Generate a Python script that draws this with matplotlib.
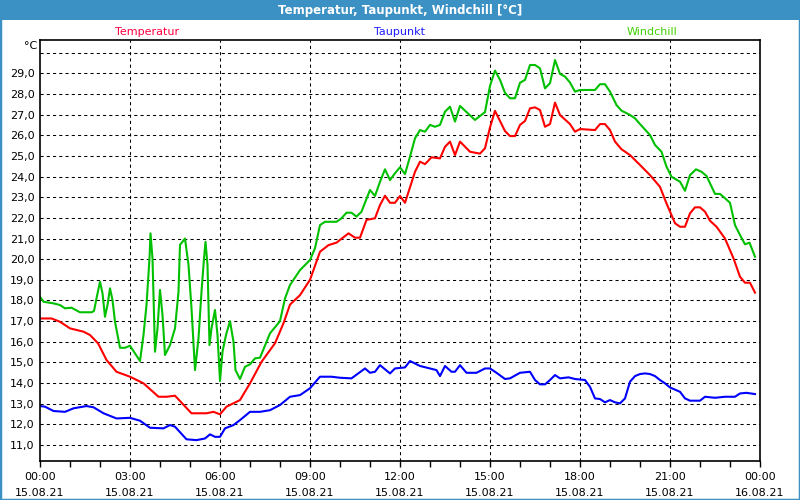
import matplotlib
matplotlib.use("Agg")
import matplotlib.pyplot as plt
from matplotlib.patches import Rectangle
import numpy as np

# minutes since 15.08.21 00:00
temp_min = [0, 23, 40, 60, 87, 100, 116, 133, 153, 180, 207, 237, 253, 270, 303, 333, 347, 360,
            373, 400, 420, 443, 470, 487, 500, 520, 540, 560, 577, 593, 617, 630, 640, 653, 670,
            680, 690, 700, 710, 720, 730, 750, 760, 770, 783, 800, 810, 820, 830, 840, 860, 880,
            890, 900, 910, 930, 940, 950, 960, 970, 980, 990, 1000, 1010, 1020, 1030, 1040, 1060,
            1070, 1080, 1110, 1120, 1130, 1140, 1150, 1163, 1180, 1200, 1220, 1240, 1253, 1270,
            1280, 1290, 1300, 1310, 1320, 1330, 1340, 1353, 1370, 1387, 1400, 1410, 1420, 1430]
temp = [17.13, 17.13, 16.97, 16.65, 16.49, 16.33, 15.93, 15.12, 14.55, 14.31, 13.99, 13.34, 13.34,
        13.39, 12.54, 12.54, 12.61, 12.49, 12.86, 13.18, 13.99, 15.03, 15.93, 16.9, 17.8, 18.26,
        19.0, 20.36, 20.68, 20.8, 21.25, 21.04, 21.04, 21.9, 21.98, 22.62, 23.07, 22.73, 22.73,
        23.06, 22.73, 24.23, 24.72, 24.6, 24.93, 24.88, 25.44, 25.69, 25.04, 25.69, 25.2, 25.11,
        25.37, 26.38, 27.18, 26.2, 25.96, 25.96, 26.5, 26.69, 27.3, 27.35, 27.22, 26.41, 26.54,
        27.58, 26.98, 26.54, 26.17, 26.3, 26.25, 26.54, 26.54, 26.25, 25.69, 25.32, 25.04, 24.56,
        24.07, 23.5, 22.7, 21.74, 21.57, 21.57, 22.22, 22.51, 22.51, 22.3, 21.86, 21.57, 21.0,
        20.04, 19.15, 18.86, 18.86, 18.38]

dew_min = [0, 10, 27, 50, 67, 93, 107, 127, 153, 180, 200, 220, 247, 260, 270, 293, 313, 330, 340,
           350, 360, 370, 387, 400, 420, 440, 460, 480, 500, 520, 540, 560, 583, 600, 623, 650, 660,
           670, 680, 700, 710, 730, 740, 760, 780, 793, 800, 810, 823, 830, 840, 853, 873, 890, 900,
           913, 930, 940, 960, 980, 990, 1000, 1010, 1020, 1030, 1040, 1057, 1070, 1090, 1100, 1110,
           1120, 1130, 1140, 1150, 1160, 1170, 1180, 1190, 1200, 1210, 1220, 1230, 1240, 1250, 1260,
           1280, 1290, 1300, 1320, 1330, 1350, 1370, 1390, 1400, 1413, 1430]
dew = [12.89, 12.86, 12.65, 12.61, 12.78, 12.89, 12.83, 12.54, 12.29, 12.32, 12.18, 11.84, 11.81,
       11.97, 11.89, 11.28, 11.24, 11.32, 11.52, 11.4, 11.4, 11.81, 11.97, 12.21, 12.61, 12.61,
       12.69, 12.94, 13.34, 13.42, 13.75, 14.31, 14.31, 14.26, 14.23, 14.71, 14.5, 14.55, 14.87,
       14.47, 14.71, 14.76, 15.07, 14.83, 14.71, 14.63, 14.34, 14.83, 14.55, 14.55, 14.87, 14.5,
       14.5, 14.71, 14.71, 14.5, 14.2, 14.23, 14.5, 14.55, 14.15, 13.94, 13.94, 14.15, 14.39,
       14.23, 14.28, 14.2, 14.15, 13.82, 13.26, 13.23, 13.07, 13.18, 13.07, 13.02, 13.26, 14.07,
       14.34, 14.44, 14.47, 14.44, 14.34, 14.15, 13.99, 13.79, 13.58, 13.26, 13.15, 13.15, 13.34,
       13.29, 13.34, 13.34, 13.5, 13.53, 13.47]

wc_min = [0, 7, 27, 40, 50, 63, 80, 103, 108, 113, 120, 125, 130, 135, 140, 145, 150, 160, 170,
          180, 190, 200, 207, 213, 219, 221, 225, 230, 235, 240, 245, 250, 260, 270, 277, 280, 290,
          297, 303, 310, 317, 323, 328, 331, 335, 339, 343, 350, 355, 360, 365, 372, 380, 387, 391,
          400, 410, 420, 430, 440, 460, 480, 490, 500, 520, 540, 550, 560, 570, 593, 603, 613, 623,
          633, 643, 660, 670, 680, 690, 700, 710, 720, 730, 740, 750, 760, 770, 780, 790, 800, 810,
          820, 830, 840, 850, 870, 880, 890, 900, 910, 920, 930, 940, 950, 960, 970, 980, 990, 1000,
          1010, 1020, 1030, 1040, 1050, 1060, 1070, 1080, 1110, 1120, 1130, 1140, 1153, 1163, 1180,
          1190, 1200, 1220, 1230, 1243, 1253, 1263, 1280, 1290, 1300, 1312, 1323, 1333, 1350, 1360,
          1370, 1380, 1390, 1400, 1410, 1419, 1430]
windchill = [18.18, 17.94, 17.86, 17.78, 17.62, 17.65, 17.43, 17.43, 17.49, 18.1, 18.91, 18.35,
             17.21, 17.78, 18.59, 18.02, 16.97, 15.71, 15.71, 15.81, 15.44, 15.07, 16.33, 17.78,
             20.04, 21.25, 20.04, 15.52, 16.65, 18.51, 17.3, 15.36, 15.84, 16.65, 18.42, 20.69,
             21.0, 19.72, 17.62, 14.63, 16.17, 18.42, 20.04, 20.84, 19.72, 15.84, 16.65, 17.54,
             16.33, 14.1, 15.52, 16.33, 17.0, 16.0, 14.63, 14.2, 14.79, 14.91, 15.2, 15.23, 16.41,
             17.0, 18.1, 18.75, 19.47, 19.96, 20.53, 21.65, 21.81, 21.81, 21.98, 22.25, 22.25,
             22.06, 22.3, 23.35, 23.06, 23.75, 24.35, 23.83, 24.16, 24.45, 24.12, 24.96, 25.85,
             26.25, 26.17, 26.5, 26.41, 26.5, 27.14, 27.38, 26.66, 27.42, 27.19, 26.74, 26.93,
             27.12, 28.39, 29.13, 28.68, 28.05, 27.79, 27.79, 28.54, 28.68, 29.4, 29.4, 29.24,
             28.27, 28.52, 29.64, 28.97, 28.84, 28.55, 28.11, 28.19, 28.19, 28.47, 28.47, 28.11,
             27.46, 27.19, 26.98, 26.82, 26.54, 26.01, 25.53, 25.2, 24.48, 23.99, 23.75, 23.31,
             24.07, 24.35, 24.23, 24.03, 23.16, 23.16, 22.95, 22.73, 21.65, 21.17, 20.72, 20.8,
             20.12]

tick_labels = ["00:00\n15.08.21", "03:00\n15.08.21", "06:00\n15.08.21", "09:00\n15.08.21",
               "12:00\n15.08.21", "15:00\n15.08.21", "18:00\n15.08.21", "21:00\n15.08.21",
               "00:00\n16.08.21"]
y_ticks = [11, 12, 13, 14, 15, 16, 17, 18, 19, 20, 21, 22, 23, 24, 25, 26, 27, 28, 29]

frame_blue = "#3c91c4"

fig = plt.figure(figsize=(8, 5), dpi=100)
fig.patch.set_facecolor("white")

# window frame + title bar
fig.add_artist(Rectangle((0, 0.96), 1, 0.04, transform=fig.transFigure,
                         facecolor=frame_blue, edgecolor="none"))
fig.add_artist(Rectangle((0, 0), 1, 1, transform=fig.transFigure, fill=False,
                         edgecolor=frame_blue, linewidth=2.5))
fig.text(0.5, 0.979, "Temperatur, Taupunkt, Windchill [°C]", color="white",
         fontsize=8.5, fontweight="bold", ha="center", va="center")

ax = fig.add_axes([0.05, 0.078, 0.90, 0.842])

ax.plot(np.array(wc_min) / 60, windchill, color="#00c000", lw=1.5)
ax.plot(np.array(temp_min) / 60, temp, color="#ff0000", lw=1.5)
ax.plot(np.array(dew_min) / 60, dew, color="#0000ff", lw=1.5)

ax.set_xlim(0, 24)
ax.set_ylim(10.23, 30.61)

ax.set_xticks(np.arange(0, 25, 3))
ax.set_xticklabels(tick_labels, fontsize=8, linespacing=1.75)
ax.set_xticks(np.arange(0, 25, 1), minor=True)
ax.tick_params(axis="x", which="both", direction="out", length=4, width=1, pad=4)

ax.set_yticks(y_ticks)
ax.set_yticklabels([f"{v:.1f}".replace(".", ",") for v in y_ticks], fontsize=8)
ax.tick_params(axis="y", length=0, pad=4)

# grid, including the unlabeled 30,0 line
for v in y_ticks + [30]:
    ax.axhline(v, color="black", lw=0.75, ls=(0, (3, 3)), zorder=0)
for h in range(3, 24, 3):
    ax.axvline(h, color="black", lw=0.75, ls=(0, (3, 3)), zorder=0)

for s in ax.spines.values():
    s.set_linewidth(1.2)
    s.set_color("black")

fig.text(31 / 800, 1 - 46 / 500, "°C", fontsize=8, ha="center", va="center")
fig.text(147 / 800, 1 - 32 / 500, "Temperatur", color="#ff0040", fontsize=8, ha="center", va="center")
fig.text(400 / 800, 1 - 32 / 500, "Taupunkt", color="#2020ff", fontsize=8, ha="center", va="center")
fig.text(652 / 800, 1 - 32 / 500, "Windchill", color="#40d000", fontsize=8, ha="center", va="center")

fig.savefig("out.png", dpi=100)
